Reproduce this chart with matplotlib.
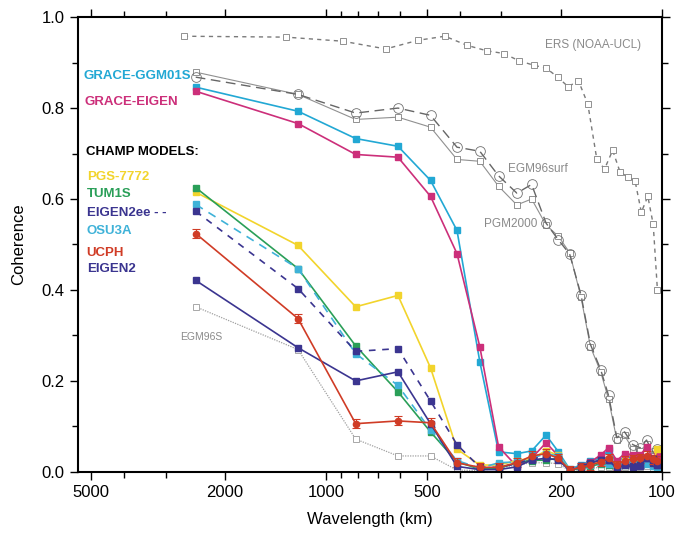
import matplotlib
matplotlib.use('Agg')
import matplotlib.pyplot as plt
from matplotlib.ticker import FixedLocator, NullFormatter

plt.rcParams['font.family'] = ['Liberation Sans', 'DejaVu Sans']

# wavelengths (km) of the model comparison points
wl = [2440, 1210, 815, 610, 488, 407, 348, 306, 270, 244, 221, 203,
      188, 174, 163, 152, 144, 136, 129, 122, 116, 111, 106, 103]

grace_ggm01s = [0.846, 0.793, 0.733, 0.716, 0.641, 0.531, 0.242, 0.044, 0.040, 0.046, 0.081, 0.044,
                0.006, 0.015, 0.025, 0.030, 0.048, 0.022, 0.033, 0.030, 0.025, 0.028, 0.022, 0.030]
grace_eigen = [0.837, 0.766, 0.698, 0.692, 0.606, 0.480, 0.275, 0.055, 0.012, 0.030, 0.064, 0.035,
               0.004, 0.012, 0.022, 0.037, 0.053, 0.025, 0.040, 0.038, 0.036, 0.055, 0.030, 0.035]
pgs7772 = [0.615, 0.498, 0.363, 0.388, 0.229, 0.050, 0.015, 0.015, 0.025, 0.030, 0.046, 0.037,
           0.004, 0.010, 0.018, 0.025, 0.028, 0.015, 0.025, 0.020, 0.025, 0.030, 0.025, 0.050]
tum1s = [0.625, 0.447, 0.277, 0.176, 0.088, 0.022, 0.006, 0.008, 0.020, 0.025, 0.026, 0.030,
         0.003, 0.008, 0.012, 0.018, 0.015, 0.012, 0.015, 0.015, 0.018, 0.020, 0.015, 0.020]
eigen2ee = [0.573, 0.403, 0.265, 0.271, 0.156, 0.060, 0.010, 0.010, 0.018, 0.028, 0.035, 0.028,
            0.004, 0.012, 0.020, 0.026, 0.026, 0.010, 0.018, 0.012, 0.015, 0.030, 0.020, 0.015]
osu3a = [0.588, 0.447, 0.260, 0.190, 0.092, 0.025, 0.008, 0.020, 0.022, 0.030, 0.040, 0.035,
         0.005, 0.010, 0.015, 0.020, 0.018, 0.012, 0.020, 0.022, 0.015, 0.018, 0.012, 0.010]
ucph = [0.524, 0.337, 0.106, 0.112, 0.108, 0.020, 0.010, 0.010, 0.020, 0.035, 0.040, 0.030,
        0.004, 0.010, 0.015, 0.022, 0.030, 0.015, 0.025, 0.028, 0.030, 0.035, 0.028, 0.025]
eigen2 = [0.421, 0.273, 0.200, 0.220, 0.106, 0.012, 0.005, 0.005, 0.011, 0.026, 0.030, 0.026,
          0.003, 0.011, 0.020, 0.026, 0.026, 0.007, 0.015, 0.010, 0.012, 0.030, 0.028, 0.015]
egm96s = [0.363, 0.269, 0.072, 0.035, 0.035, 0.004, 0.003, 0.008, 0.015, 0.020, 0.020, 0.018,
          0.002, 0.005, 0.008, 0.010, 0.010, 0.005, 0.010, 0.008, 0.010, 0.012, 0.008, 0.008]
egm96surf = [0.868, 0.830, 0.789, 0.800, 0.784, 0.714, 0.705, 0.651, 0.613, 0.632, 0.547, 0.510,
             0.479, 0.390, 0.280, 0.225, 0.168, 0.075, 0.088, 0.060, 0.053, 0.070, 0.042, 0.050]
pgm2000 = [0.879, 0.830, 0.775, 0.780, 0.758, 0.687, 0.683, 0.628, 0.587, 0.600, 0.543, 0.518,
           0.482, 0.385, 0.275, 0.220, 0.160, 0.070, 0.080, 0.050, 0.045, 0.062, 0.035, 0.030]

# ERS altimetry comparison
ers_wl = [2646, 1315, 890, 663, 532, 442, 380, 332, 295, 266, 240, 221, 204,
          190, 177, 166, 156, 148, 140, 133, 126, 120, 115, 110, 106, 103]
ers = [0.958, 0.956, 0.947, 0.930, 0.949, 0.958, 0.938, 0.926, 0.920, 0.904, 0.894, 0.888, 0.868,
       0.847, 0.860, 0.809, 0.687, 0.666, 0.707, 0.659, 0.648, 0.639, 0.571, 0.606, 0.544, 0.400]

fig = plt.figure(figsize=(6.78, 5.35), dpi=100)
ax = fig.add_axes([0.115, 0.118, 0.861, 0.850])

gray = '#8a8a8a'
# reference models (gray)
ax.plot(ers_wl, ers, color='#7a7a7a', lw=1.0, ls=(0, (3, 3)), marker='s', ms=4,
        mfc='white', mec='#808080', mew=0.6)
ax.plot(wl, pgm2000, color='#909090', lw=0.8, marker='s', ms=4.5, mfc='white', mec='#808080', mew=0.6)
ax.plot(wl, egm96surf, color='#666666', lw=1.0, ls=(0, (7, 4)), marker='o', ms=7,
        mfc='none', mec='#707070', mew=0.6)
ax.plot(wl, egm96s, color='#a0a0a0', lw=0.9, ls=(0, (1, 1)), marker='s', ms=4.5,
        mfc='white', mec='#9a9a9a', mew=0.6)

# satellite-only models
ax.plot(wl, grace_ggm01s, color='#22a8d4', lw=1.2, marker='s', ms=4)
ax.plot(wl, grace_eigen, color='#cc2f7a', lw=1.2, marker='s', ms=4)
ax.plot(wl, pgs7772, color='#f2d42c', lw=1.2, marker='s', ms=4)
ax.plot(wl, tum1s, color='#2a9f58', lw=1.2, marker='s', ms=4)
ax.plot(wl, osu3a, color='#3fb2d8', lw=1.2, ls=(0, (5, 4)), marker='s', ms=4)
ax.plot(wl, eigen2ee, color='#3b3590', lw=1.2, ls=(0, (4, 4)), marker='s', ms=4)
ax.errorbar(wl, ucph, yerr=0.01, color='#d03c26', lw=1.2, marker='o', ms=4.5,
            capsize=3, elinewidth=0.8, capthick=0.8)
ax.plot(wl, eigen2, color='#3b3590', lw=1.2, marker='s', ms=4)

ax.set_xscale('log')
ax.set_xlim(5470, 100)
ax.set_ylim(0, 1.0)
ax.xaxis.set_major_locator(FixedLocator([5000, 2000, 1000, 500, 200, 100]))
ax.xaxis.set_minor_locator(FixedLocator([4000, 3000, 900, 800, 700, 600, 400, 300]))
ax.xaxis.set_major_formatter(plt.FuncFormatter(lambda v, p: '%d' % v))
ax.xaxis.set_minor_formatter(NullFormatter())
ax.set_yticks([0, 0.2, 0.4, 0.6, 0.8, 1.0])
ax.set_yticklabels(['0.0', '0.2', '0.4', '0.6', '0.8', '1.0'])
ax.set_yticks([0.1, 0.3, 0.5, 0.7, 0.9], minor=True)
ax.tick_params(which='both', direction='out', top=True, right=True, labelsize=12, width=1.0)
ax.tick_params(which='major', length=6)
ax.tick_params(which='minor', length=4)
for s in ax.spines.values():
    s.set_linewidth(1.5)

ax.set_xlabel('Wavelength (km)', fontsize=12)
ax.set_ylabel('Coherence', fontsize=12)
ax.xaxis.set_label_coords(0.5, -0.088)
ax.yaxis.set_label_coords(-0.088, 0.5)

# labels
tx = ax.transAxes
ax.text(0.009, 0.870, 'GRACE-GGM01S', color='#22a8d4', fontsize=9.5, fontweight='bold', va='center', transform=tx)
ax.text(0.012, 0.813, 'GRACE-EIGEN', color='#cc2f7a', fontsize=9.5, fontweight='bold', va='center', transform=tx)
ax.text(0.014, 0.703, 'CHAMP MODELS:', color='black', fontsize=9.5, fontweight='bold', va='center', transform=tx)
ax.text(0.015, 0.648, 'PGS-7772', color='#f2d42c', fontsize=9.5, fontweight='bold', va='center', transform=tx)
ax.text(0.015, 0.612, 'TUM1S', color='#2a9f58', fontsize=9.5, fontweight='bold', va='center', transform=tx)
ax.text(0.015, 0.570, 'EIGEN2ee - -', color='#3b3590', fontsize=9.5, fontweight='bold', va='center', transform=tx)
ax.text(0.015, 0.529, 'OSU3A', color='#3fb2d8', fontsize=9.5, fontweight='bold', va='center', transform=tx)
ax.text(0.015, 0.482, 'UCPH', color='#d03c26', fontsize=9.5, fontweight='bold', va='center', transform=tx)
ax.text(0.015, 0.447, 'EIGEN2', color='#3b3590', fontsize=9.5, fontweight='bold', va='center', transform=tx)
ax.text(0.800, 0.938, 'ERS (NOAA-UCL)', color=gray, fontsize=8.5, va='center', transform=tx)
ax.text(0.736, 0.665, 'EGM96surf', color=gray, fontsize=8.5, va='center', transform=tx)
ax.text(0.695, 0.546, 'PGM2000', color=gray, fontsize=8.5, va='center', transform=tx)
ax.text(0.175, 0.297, 'EGM96S', color=gray, fontsize=7.5, va='center', transform=tx)

fig.savefig('out.png', dpi=100)
